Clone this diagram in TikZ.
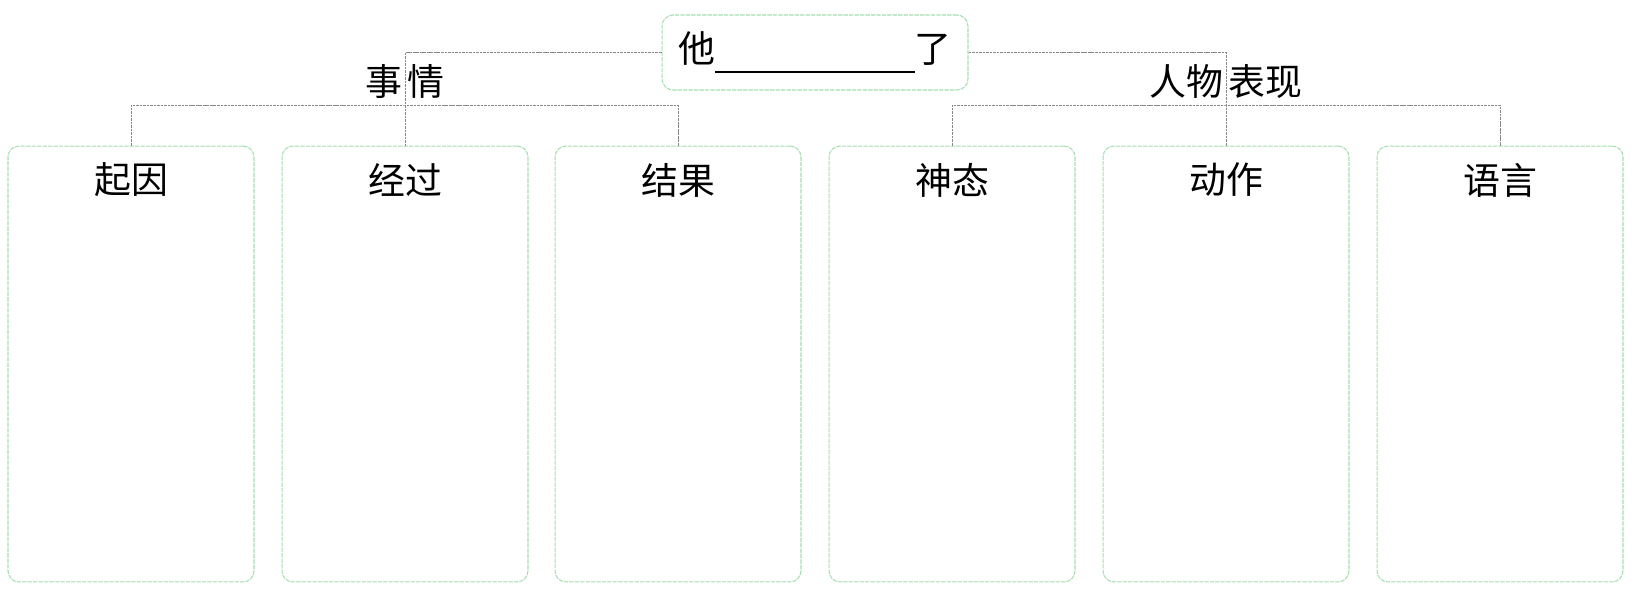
\documentclass[tikz,border=0pt]{standalone}
\usepackage{fontspec}
\setmainfont{Noto Sans CJK SC}
\definecolor{mintgreen}{RGB}{165,222,175}
\definecolor{linkgray}{RGB}{135,135,135}

\begin{document}
\begin{tikzpicture}[x=0.02cm, y=-0.02cm,
    panel/.style={draw=mintgreen, dash pattern=on 2.5pt off 0.6pt, line width=0.6pt,
                  rounded corners=0.22cm, inner sep=0pt,
                  minimum width=4.92cm, minimum height=8.72cm},
    topbox/.style={draw=mintgreen, dash pattern=on 2.5pt off 0.6pt, line width=0.6pt,
                   rounded corners=0.22cm, inner sep=0pt,
                   minimum width=6.12cm, minimum height=1.5cm},
    cjk/.style={font=\fontsize{21}{25}\selectfont, inner sep=0pt},
    link/.style={draw=linkgray, dash pattern=on 1.5pt off 0.5pt, line width=0.4pt}]
    \useasboundingbox (0,0) rectangle (1640,595);

    % Titulo no topo
    \node at (815,52.5) (top) [topbox] {};
    \node at (815,52.5) (toptxt) [cjk] {他\rule[-0.2cm]{4cm}{1pt}了};

    % Caixas de baixo
    \node at (131,364) (b1) [panel] {};
    \node at (405,364) (b2) [panel] {};
    \node at (678,364) (b3) [panel] {};
    \node at (952,364) (b4) [panel] {};
    \node at (1226,364) (b5) [panel] {};
    \node at (1500,364) (b6) [panel] {};

    % Titulos das caixas
    \node at (131,180) (t1) [cjk] {起因};
    \node at (405,180) (t2) [cjk] {经过};
    \node at (678,180) (t3) [cjk] {结果};
    \node at (952,180) (t4) [cjk] {神态};
    \node at (1226,180) (t5) [cjk] {动作};
    \node at (1500,180) (t6) [cjk] {语言};

    % Ramo da esquerda
    \coordinate (evmid) at (405,105);
    \draw[link] (top.west) -| (b2.north);
    \draw[link] (b1.north) |- (evmid) -| (b3.north);
    \node at (405,82) (evlabel) [cjk] {事\hspace{0.12cm}情};

    % Ramo da direita
    \coordinate (chmid) at (1226,105);
    \draw[link] (top.east) -| (b5.north);
    \draw[link] (b4.north) |- (chmid) -| (b6.north);
    \node at (1226,82) (chlabel) [cjk] {人物\hspace{0.12cm}表现};
\end{tikzpicture}
\end{document}
